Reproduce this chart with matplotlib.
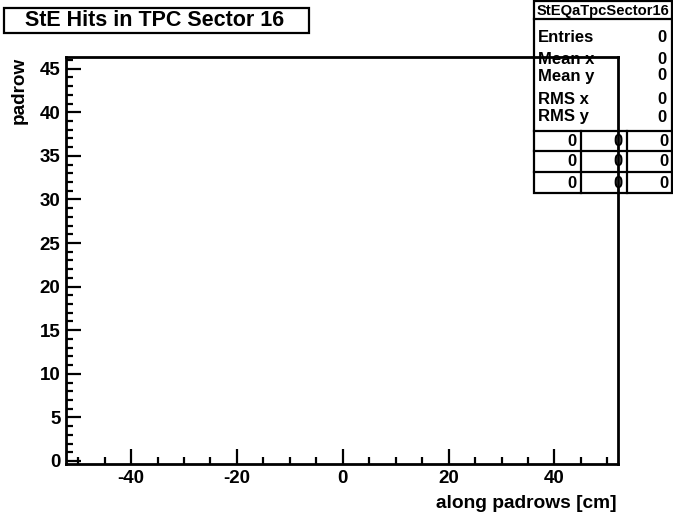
#!/usr/bin/env python3
"""Empty ROOT-style 2D histogram: StE hits in TPC sector 16."""

import matplotlib
matplotlib.use("Agg")
import matplotlib.pyplot as plt
from matplotlib.patches import Rectangle
from matplotlib.ticker import MultipleLocator

plt.rcParams["font.family"] = ["Liberation Sans", "DejaVu Sans"]
plt.rcParams["font.weight"] = "bold"
plt.rcParams["axes.unicode_minus"] = False

TITLE = "StE Hits in TPC Sector 16"
HIST_NAME = "StEQaTpcSector16"
X_LABEL = "along padrows [cm]"
Y_LABEL = "padrow"
X_RANGE = (-52.3, 52.0)
Y_RANGE = (-0.35, 46.4)
X_MAJOR, X_MINOR = 20, 5
Y_MAJOR, Y_MINOR = 5, 1
STAT_NAMES = ["Entries", "Mean x", "Mean y", "RMS x", "RMS y"]
STAT_VALUES = [0, 0, 0, 0, 0]
OVERFLOW_GRID = [[0, 0, 0], [0, 0, 0], [0, 0, 0]]

W, H = 673, 515
LW = 1.6


def main() -> None:
    fig = plt.figure(figsize=(W / 100, H / 100), dpi=100)
    fig.patch.set_facecolor("white")

    # pixel-space overlay for the title box and stats box (drawn under the frame)
    over = fig.add_axes([0, 0, 1, 1], zorder=0)
    over.set_xlim(0, W)
    over.set_ylim(H, 0)
    over.axis("off")

    # title box
    over.add_patch(Rectangle((4, 8), 305, 25, fill=False, lw=LW, ec="black"))
    over.text(155, 21, TITLE, ha="center", va="center", fontsize=15.5, fontweight="bold")

    # stats box
    bx0, bx1, by0, by1 = 534, 672, 1, 193
    over.add_patch(Rectangle((bx0, by0), bx1 - bx0, by1 - by0, fill=True, fc="white",
                             lw=LW, ec="black"))
    over.plot([bx0, bx1], [19, 19], color="black", lw=LW)
    over.text((bx0 + bx1) / 2, 10.5, HIST_NAME, ha="center", va="center", fontsize=10.6)

    stat_y = [37, 59, 76, 100, 117]
    for name, val, y in zip(STAT_NAMES, STAT_VALUES, stat_y):
        over.text(538, y, name, ha="left", va="center", fontsize=12)
        over.text(667, y, f"{val}", ha="right", va="center", fontsize=12)

    grid_lines = [131, 151, 172]
    for y in grid_lines:
        over.plot([bx0, bx1], [y, y], color="black", lw=LW)
    col_edges = [bx0, 580.7, 626.7, bx1]
    for x in col_edges[1:-1]:
        over.plot([x, x], [131, by1], color="black", lw=LW)
    row_edges = grid_lines + [by1]
    for r, row in enumerate(OVERFLOW_GRID):
        yc = (row_edges[r] + row_edges[r + 1]) / 2 + 0.5
        for c, val in enumerate(row):
            over.text(col_edges[c + 1] - 4, yc, f"{val}", ha="right", va="center",
                      fontsize=12)

    # main frame, on top of the stats box
    left, right, top, bottom = 66, 618, 56.5, 464
    ax = fig.add_axes([left / W, 1 - bottom / H, (right - left) / W, (bottom - top) / H],
                      zorder=5)
    ax.set_facecolor("none")
    ax.set_xlim(*X_RANGE)
    ax.set_ylim(*Y_RANGE)
    ax.xaxis.set_major_locator(MultipleLocator(X_MAJOR))
    ax.xaxis.set_minor_locator(MultipleLocator(X_MINOR))
    ax.yaxis.set_major_locator(MultipleLocator(Y_MAJOR))
    ax.yaxis.set_minor_locator(MultipleLocator(Y_MINOR))
    ax.tick_params(which="both", direction="in", top=False, right=False, width=1.6)
    ax.tick_params(which="major", length=10.5, labelsize=13.5, pad=4)
    ax.tick_params(which="minor", length=5)
    for lab in ax.get_xticklabels() + ax.get_yticklabels():
        lab.set_fontweight("bold")
    for sp in ax.spines.values():
        sp.set_linewidth(2.0)

    fig.text(617 / W, 1 - 503 / H, X_LABEL, ha="right", va="center", fontsize=13.8)
    fig.text(19 / W, 1 - 57 / H, Y_LABEL, ha="center", va="top", rotation=90,
             fontsize=13.6)

    fig.savefig("out.png", dpi=100)
    plt.close(fig)


if __name__ == "__main__":
    main()
